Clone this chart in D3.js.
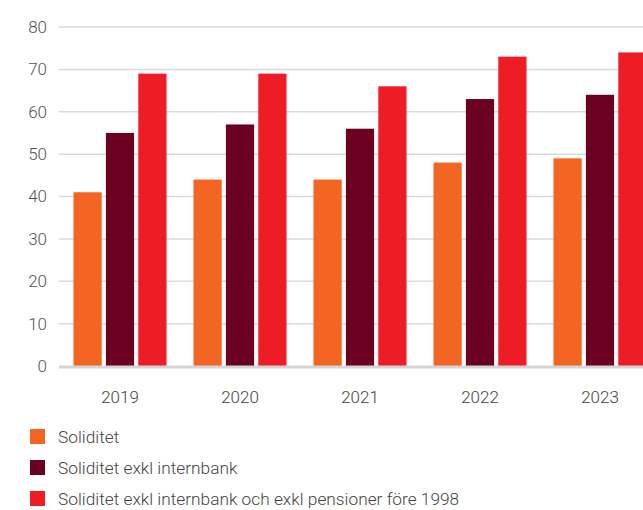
<!DOCTYPE html>
<html>
<head>
<meta charset="utf-8">
<script src="https://cdn.jsdelivr.net/npm/d3@7"></script>
<style>
  html, body { margin: 0; padding: 0; background: #fff; overflow: hidden; }
  svg { display: block; font-family: Roboto, "Noto Sans", sans-serif; }
</style>
</head>
<body>
<svg id="chart" width="643" height="510"></svg>
<script>
// data
var years = ['2019', '2020', '2021', '2022', '2023'];
var seriesNames = [
  'Soliditet',
  'Soliditet exkl internbank',
  'Soliditet exkl internbank och exkl pensioner före 1998'
];
var soliditet = [41, 44, 44, 48, 49];
var exklInternbank = [55, 57, 56, 63, 64];
var exklPensioner = [69, 69, 66, 73, 74];
var yTicks = [0, 10, 20, 30, 40, 50, 60, 70, 80];

var colors = ['#f26522', '#6c0020', '#ee1c25'];
var seriesValues = [soliditet, exklInternbank, exklPensioner];

var FONT_SIZE = '17px';
var FONT_WEIGHT = 300;

var svg = d3.select('#chart');

// plot runs past the right edge, the last group is cut off like the original
var x0 = d3.scaleBand()
    .domain(years)
    .range([60, 660])
    .paddingInner(0.225)
    .paddingOuter(0.1125);

var x1 = d3.scaleBand()
    .domain(d3.range(seriesNames.length))
    .range([0, x0.bandwidth()])
    .paddingInner(0.13);

var y = d3.scaleLinear()
    .domain([0, 80])
    .range([366, 27]);

// grid lines
svg.append('g')
    .selectAll('line')
    .data(yTicks.filter(function(d) { return d > 0; }))
  .enter().append('line')
    .attr('x1', 59)
    .attr('x2', 643)
    .attr('y1', function(d) { return y(d); })
    .attr('y2', function(d) { return y(d); })
    .style('stroke', '#dadada')
    .style('stroke-width', 1.5);

// y axis labels
var yAxis = d3.axisLeft(y)
    .tickValues(yTicks)
    .tickSize(0)
    .tickPadding(0);

svg.append('g')
    .attr('transform', 'translate(47,0)')
    .call(yAxis)
    .call(function(g) {
      g.select('.domain').remove();
      g.selectAll('text')
          .style('font-size', FONT_SIZE)
          .style('font-weight', FONT_WEIGHT)
          .style('fill', '#555')
          .style('font-family', 'Roboto, sans-serif');
    });

// bars
var groups = svg.append('g')
    .selectAll('g')
    .data(years)
  .enter().append('g')
    .attr('transform', function(d) { return 'translate(' + x0(d) + ',0)'; });

groups.selectAll('rect')
    .data(function(d, i) {
      return seriesValues.map(function(vals, s) { return {s: s, v: vals[i]}; });
    })
  .enter().append('rect')
    .attr('x', function(d) { return x1(d.s); })
    .attr('y', function(d) { return y(d.v); })
    .attr('width', x1.bandwidth())
    .attr('height', function(d) { return y(0) - y(d.v); })
    .style('fill', function(d) { return colors[d.s]; });

// baseline
svg.append('line')
    .attr('x1', 59)
    .attr('x2', 643)
    .attr('y1', y(0) + 1)
    .attr('y2', y(0) + 1)
    .style('stroke', '#d4d4d4')
    .style('stroke-width', 3);

// x axis labels
var xAxis = d3.axisBottom(x0).tickSize(0).tickPadding(0);

svg.append('g')
    .attr('transform', 'translate(0,' + 391 + ')')
    .call(xAxis)
    .call(function(g) {
      g.select('.domain').remove();
      g.selectAll('text')
          .style('font-size', FONT_SIZE)
          .style('font-weight', FONT_WEIGHT)
          .style('fill', '#444')
          .style('font-family', 'Roboto, sans-serif');
    });

// legend
var legend = svg.append('g')
    .selectAll('g')
    .data(seriesNames)
  .enter().append('g')
    .attr('transform', function(d, i) { return 'translate(30,' + (429 + i * 31) + ')'; });

legend.append('rect')
    .attr('width', 15)
    .attr('height', 15)
    .style('fill', function(d, i) { return colors[i]; });

legend.append('text')
    .attr('x', 28)
    .attr('y', 7.5)
    .attr('dy', '0.35em')
    .style('font-size', '17.3px')
    .style('font-weight', FONT_WEIGHT)
    .style('fill', '#444')
    .text(function(d) { return d; });
</script>
</body>
</html>
